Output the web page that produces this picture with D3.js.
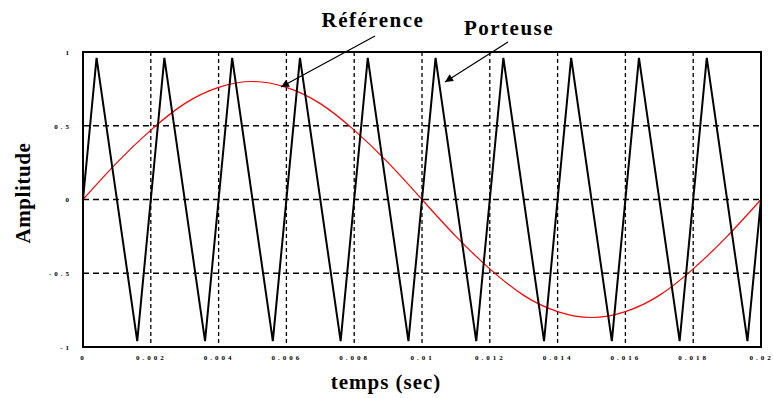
<!DOCTYPE html>
<html>
<head>
<meta charset="utf-8">
<script src="https://cdn.jsdelivr.net/npm/d3@7"></script>
<style>
  body { margin: 0; background: #fff; }
  text { font-family: "Liberation Serif", "DejaVu Serif", serif; }
</style>
</head>
<body>
<script>
"use strict"

// carrier (triangle) vertices
const carrierT = [0, 0.0004, 0.0016, 0.0024, 0.0036, 0.0044, 0.0056, 0.0064, 0.0076, 0.0084, 0.0096,
  0.0104, 0.0116, 0.0124, 0.0136, 0.0144, 0.0156, 0.0164, 0.0176, 0.0184, 0.0196, 0.02]
const carrierV = [0, 0.96, -0.96, 0.96, -0.96, 0.96, -0.96, 0.96, -0.96, 0.96, -0.96,
  0.96, -0.96, 0.96, -0.96, 0.96, -0.96, 0.96, -0.96, 0.96, -0.96, 0]

// reference (sine) read every 0.001 s
const refT = [0, 0.001, 0.002, 0.003, 0.004, 0.005, 0.006, 0.007, 0.008, 0.009, 0.01,
  0.011, 0.012, 0.013, 0.014, 0.015, 0.016, 0.017, 0.018, 0.019, 0.02]
const refV = [0, 0.25, 0.47, 0.65, 0.76, 0.8, 0.76, 0.65, 0.47, 0.25, 0,
  -0.25, -0.47, -0.65, -0.76, -0.8, -0.76, -0.65, -0.47, -0.25, 0]

// ticks
const xTicks = [0, 0.002, 0.004, 0.006, 0.008, 0.01, 0.012, 0.014, 0.016, 0.018, 0.02]
const yTicks = [-1, -0.5, 0, 0.5, 1]

const area   = [773, 398]
const margin = { top : 52, right : 12, bottom : 51, left : 83 }
const width  = area[0] - margin.left - margin.right
const height = area[1] - margin.top  - margin.bottom

const x = d3.scaleLinear().domain([0, 0.02]).range([0, width])
const y = d3.scaleLinear().domain([-1, 1]).range([height, 0])

const translate = (x, y) => `translate(${x} ${y})`

const root = d3.select("body").append("svg")
  .attr("width", area[0])
  .attr("height", area[1])

root.append("defs").append("marker")
  .attr("id", "arrow")
  .attr("viewBox", "0 0 10 10")
  .attr("refX", 10).attr("refY", 5)
  .attr("markerWidth", 11).attr("markerHeight", 8)
  .attr("markerUnits", "userSpaceOnUse")
  .attr("orient", "auto")
  .append("path").attr("d", "M0,0 L10,5 L0,10 z").attr("fill", "#000")

const svg = root.append("g").attr("transform", translate(margin.left, margin.top))

// grid
svg.append("g").selectAll("line")
  .data(xTicks.slice(1, -1))
  .join("line")
  .attr("x1", d => x(d)).attr("x2", d => x(d))
  .attr("y1", 0).attr("y2", height)
  .attr("stroke", "#000").attr("stroke-width", 1.3)
  .attr("stroke-dasharray", "4,3")

svg.append("g").selectAll("line")
  .data(yTicks.slice(1, -1))
  .join("line")
  .attr("x1", 0).attr("x2", width)
  .attr("y1", d => y(d)).attr("y2", d => y(d))
  .attr("stroke", "#000").attr("stroke-width", 1.3)
  .attr("stroke-dasharray", "6,4")

// axes (labels only, frame drawn separately)
const xAxis = svg.append("g").attr("transform", translate(0, height))
  .call(d3.axisBottom(x).tickValues(xTicks).tickSize(0).tickPadding(8).tickFormat(d => String(+d.toFixed(3))))
const yAxis = svg.append("g")
  .call(d3.axisLeft(y).tickValues(yTicks).tickSize(0).tickPadding(11).tickFormat(d => String(d)))
;[xAxis, yAxis].forEach(a => {
  a.select(".domain").remove()
  a.selectAll("text")
    .attr("font-family", "'DejaVu Sans Mono', monospace")
    .attr("font-size", 7)
    .attr("font-weight", "bold")
    .attr("letter-spacing", 3)
    .attr("fill", "#000")
})

// series
const carrier = carrierT.map((t, i) => [t, carrierV[i]])
const reference = refT.map((t, i) => [t, refV[i]])

svg.append("path")
  .datum(reference)
  .attr("fill", "none")
  .attr("stroke", "#ff0000")
  .attr("stroke-width", 1.2)
  .attr("d", d3.line().x(d => x(d[0])).y(d => y(d[1])).curve(d3.curveNatural))

svg.append("path")
  .datum(carrier)
  .attr("fill", "none")
  .attr("stroke", "#000")
  .attr("stroke-width", 2)
  .attr("stroke-linejoin", "miter")
  .attr("d", d3.line().x(d => x(d[0])).y(d => y(d[1])))

// frame
svg.append("rect")
  .attr("width", width).attr("height", height)
  .attr("fill", "none").attr("stroke", "#000").attr("stroke-width", 2)

// titles
root.append("text")
  .attr("x", 386).attr("y", 389)
  .attr("text-anchor", "middle")
  .attr("font-size", 21).attr("font-weight", "bold")
  .attr("letter-spacing", 1)
  .text("temps (sec)")

root.append("text")
  .attr("transform", translate(30, 193) + " rotate(-90)")
  .attr("text-anchor", "middle")
  .attr("font-size", 21).attr("font-weight", "bold")
  .attr("letter-spacing", 0.6)
  .text("Amplitude")

// annotations
root.append("text")
  .attr("x", 373).attr("y", 27)
  .attr("text-anchor", "middle")
  .attr("font-size", 21).attr("font-weight", "bold")
  .attr("letter-spacing", 1.5)
  .text("Référence")

root.append("text")
  .attr("x", 509).attr("y", 35)
  .attr("text-anchor", "middle")
  .attr("font-size", 21).attr("font-weight", "bold")
  .attr("letter-spacing", 1.5)
  .text("Porteuse")

const arrows = [[375, 36, 281, 87], [508, 42, 445, 82]]
root.append("g").selectAll("line")
  .data(arrows)
  .join("line")
  .attr("x1", d => d[0]).attr("y1", d => d[1])
  .attr("x2", d => d[2]).attr("y2", d => d[3])
  .attr("stroke", "#000").attr("stroke-width", 1.2)
  .attr("marker-end", "url(#arrow)")
</script>
</body>
</html>
